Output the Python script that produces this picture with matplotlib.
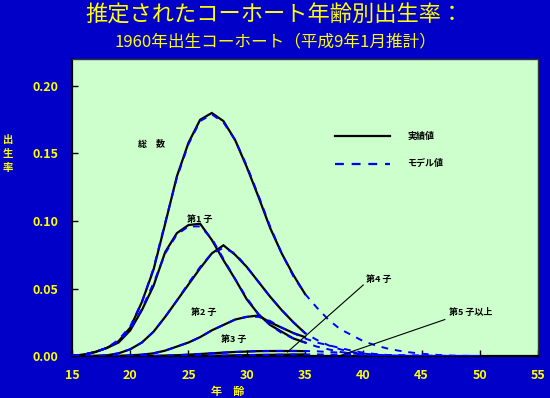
import matplotlib
matplotlib.use("Agg")
import matplotlib.pyplot as plt

plt.rcParams['font.family'] = ['Noto Sans CJK JP', 'DejaVu Sans']

# ---- data ----
ages_actual = list(range(15, 36))
ages_model = list(range(15, 51))

total_actual = [0.0002, 0.001, 0.003, 0.006, 0.011, 0.021, 0.040, 0.064, 0.098, 0.133,
                0.158, 0.175, 0.180, 0.174, 0.160, 0.140, 0.118, 0.095, 0.076, 0.060, 0.046]
first_actual = [0.0002, 0.001, 0.003, 0.006, 0.010, 0.019, 0.034, 0.052, 0.077, 0.091,
                0.097, 0.098, 0.086, 0.071, 0.057, 0.042, 0.031, 0.023, 0.018, 0.013, 0.010]
second_actual = [0.0, 0.0, 0.0, 0.0005, 0.002, 0.005, 0.010, 0.018, 0.029, 0.041,
                 0.053, 0.065, 0.076, 0.082, 0.075, 0.066, 0.055, 0.044, 0.034, 0.025, 0.017]
third_actual = [0.0, 0.0, 0.0, 0.0, 0.0, 0.0005, 0.001, 0.002, 0.004, 0.007,
                0.010, 0.014, 0.019, 0.023, 0.027, 0.029, 0.030, 0.025, 0.021, 0.017, 0.014]
fourth_actual = [0.0, 0.0, 0.0, 0.0, 0.0, 0.0, 0.0, 0.0, 0.0003, 0.0006,
                 0.001, 0.0015, 0.002, 0.0025, 0.003, 0.0033, 0.0036, 0.0037, 0.0037, 0.0037, 0.0036]
fifth_actual = [0.0, 0.0, 0.0, 0.0, 0.0, 0.0, 0.0, 0.0, 0.0, 0.0,
                0.0, 0.0001, 0.0002, 0.0003, 0.0005, 0.0006, 0.0008, 0.0009, 0.001, 0.0011, 0.0012]

total_model = [0.0002, 0.001, 0.003, 0.006, 0.012, 0.022, 0.040, 0.065, 0.099, 0.132,
               0.157, 0.174, 0.179, 0.173, 0.160, 0.141, 0.119, 0.096, 0.076, 0.059,
               0.046, 0.036, 0.027, 0.020, 0.0155, 0.011, 0.008, 0.0057, 0.004, 0.0027,
               0.0017, 0.001, 0.0005, 0.0002, 0.0001, 0.0]
first_model = [0.0002, 0.001, 0.003, 0.006, 0.011, 0.020, 0.035, 0.054, 0.076, 0.090,
               0.096, 0.096, 0.087, 0.072, 0.057, 0.043, 0.031, 0.023, 0.017, 0.013,
               0.010, 0.007, 0.005, 0.003, 0.002, 0.001, 0.0005, 0.0002, 0.0001, 0.0,
               0.0, 0.0, 0.0, 0.0, 0.0, 0.0]
second_model = [0.0, 0.0, 0.0, 0.0005, 0.002, 0.005, 0.010, 0.018, 0.029, 0.041,
                0.054, 0.066, 0.076, 0.080, 0.076, 0.066, 0.055, 0.044, 0.034, 0.025,
                0.017, 0.012, 0.008, 0.005, 0.003, 0.0018, 0.001, 0.0005, 0.0002, 0.0001,
                0.0, 0.0, 0.0, 0.0, 0.0, 0.0]
third_model = [0.0, 0.0, 0.0, 0.0, 0.0, 0.0005, 0.001, 0.002, 0.004, 0.007,
               0.010, 0.014, 0.019, 0.023, 0.027, 0.029, 0.029, 0.026, 0.021, 0.017,
               0.013, 0.010, 0.008, 0.006, 0.004, 0.0025, 0.0015, 0.0008, 0.0004, 0.0002,
               0.0001, 0.0, 0.0, 0.0, 0.0, 0.0]
fourth_model = [0.0, 0.0, 0.0, 0.0, 0.0, 0.0, 0.0, 0.0, 0.0003, 0.0006,
                0.001, 0.0015, 0.002, 0.0025, 0.003, 0.0033, 0.0036, 0.0037, 0.0038, 0.0038,
                0.0037, 0.0035, 0.003, 0.0025, 0.002, 0.0015, 0.001, 0.0007, 0.0004, 0.0002,
                0.0001, 0.0, 0.0, 0.0, 0.0, 0.0]
fifth_model = [0.0, 0.0, 0.0, 0.0, 0.0, 0.0, 0.0, 0.0, 0.0, 0.0,
               0.0, 0.0001, 0.0002, 0.0003, 0.0005, 0.0006, 0.0008, 0.0009, 0.001, 0.0011,
               0.0012, 0.0012, 0.0011, 0.001, 0.0009, 0.0008, 0.0007, 0.0006, 0.0005, 0.0004,
               0.0003, 0.0002, 0.0001, 0.0, 0.0, 0.0]

x_ticks = [15, 20, 25, 30, 35, 40, 45, 50, 55]
y_ticks = [0.00, 0.05, 0.10, 0.15, 0.20]
y_ticklabels = ['0.00', '0.05', '0.10', '0.15', '0.20']

title1 = '推定されたコーホート年齢別出生率：'
title2 = '1960年出生コーホート（平成9年1月推計）'
ylabel_chars = ['出', '生', '率']

# ---- styling ----
BG = '#0000C8'
PLOT_BG = '#CCFFCC'
YELLOW = '#FFFF00'
BLUE = '#0000FF'

fig = plt.figure(figsize=(5.5, 3.98), dpi=100, facecolor=BG)
ax = fig.add_axes([0.1309, 0.1055, 0.8473, 0.7463], facecolor=PLOT_BG)

actuals = [total_actual, first_actual, second_actual, third_actual, fourth_actual, fifth_actual]
models = [total_model, first_model, second_model, third_model, fourth_model, fifth_model]

for a in actuals:
    ax.plot(ages_actual, a, color='black', lw=1.6, zorder=3, solid_joinstyle='miter')
for m in models:
    ax.plot(ages_model, m, color=BLUE, lw=1.4, ls=(0, (3.5, 3.5)), zorder=4)

ax.set_xlim(15, 55)
ax.set_ylim(0, 0.22)
ax.set_xticks(x_ticks)
ax.set_yticks(y_ticks)
ax.set_yticklabels(y_ticklabels)
ax.tick_params(axis='both', direction='in', length=4, width=1, color='black',
               labelcolor=YELLOW, labelsize=9)
ax.tick_params(axis='y', pad=10)
ax.tick_params(axis='x', pad=9)
for lab in ax.get_xticklabels() + ax.get_yticklabels():
    lab.set_fontweight('bold')

for s in ['left', 'bottom']:
    ax.spines[s].set_linewidth(1.6)
    ax.spines[s].set_color('black')
for s in ['top', 'right']:
    ax.spines[s].set_linewidth(1.0)
    ax.spines[s].set_color('#333333')

# titles
fig.text(0.5, 0.962, title1, color=YELLOW, fontsize=16, ha='center', va='center')
fig.text(0.5, 0.895, title2, color=YELLOW, fontsize=12, ha='center', va='center')

# axis labels
fig.text(228 / 550, 1 - 391 / 398, '年　齢', color=YELLOW, fontsize=8,
         fontweight='bold', ha='center', va='center')
for i, ch in enumerate(ylabel_chars):
    fig.text(8 / 550, 1 - (140 + i * 14) / 398, ch, color=YELLOW, fontsize=7.5,
             fontweight='bold', ha='center', va='center')

# annotations
ann_kw = dict(color='black', fontsize=6.5, fontweight='bold', ha='center', va='center')
ax.text(21.8, 0.157, '総　数', **ann_kw)
ax.text(26.0, 0.1013, '第1 子', **ann_kw)
ax.text(26.3, 0.0326, '第2 子', **ann_kw)
ax.text(28.9, 0.0126, '第3 子', **ann_kw)
ax.text(41.3, 0.0570, '第4 子', **ann_kw)
ax.text(49.2, 0.0320, '第5 子以上', **ann_kw)
ax.plot([40.0, 33.5], [0.0526, 0.003], color='black', lw=0.8, zorder=5)
ax.plot([47.0, 37.9], [0.0270, 0.0], color='black', lw=0.8, zorder=5)

# legend (manual, in data coordinates)
ax.plot([37.6, 42.3], [0.163, 0.163], color='black', lw=1.6)
ax.plot([37.6, 42.3], [0.1425, 0.1425], color=BLUE, lw=1.6, ls=(0, (4, 3.5)))
ax.text(43.8, 0.163, '実績値', color='black', fontsize=6.5, fontweight='bold',
        ha='left', va='center')
ax.text(43.8, 0.1425, 'モデル値', color='black', fontsize=6.5, fontweight='bold',
        ha='left', va='center')

fig.savefig('out.png', dpi=100, facecolor=BG)
